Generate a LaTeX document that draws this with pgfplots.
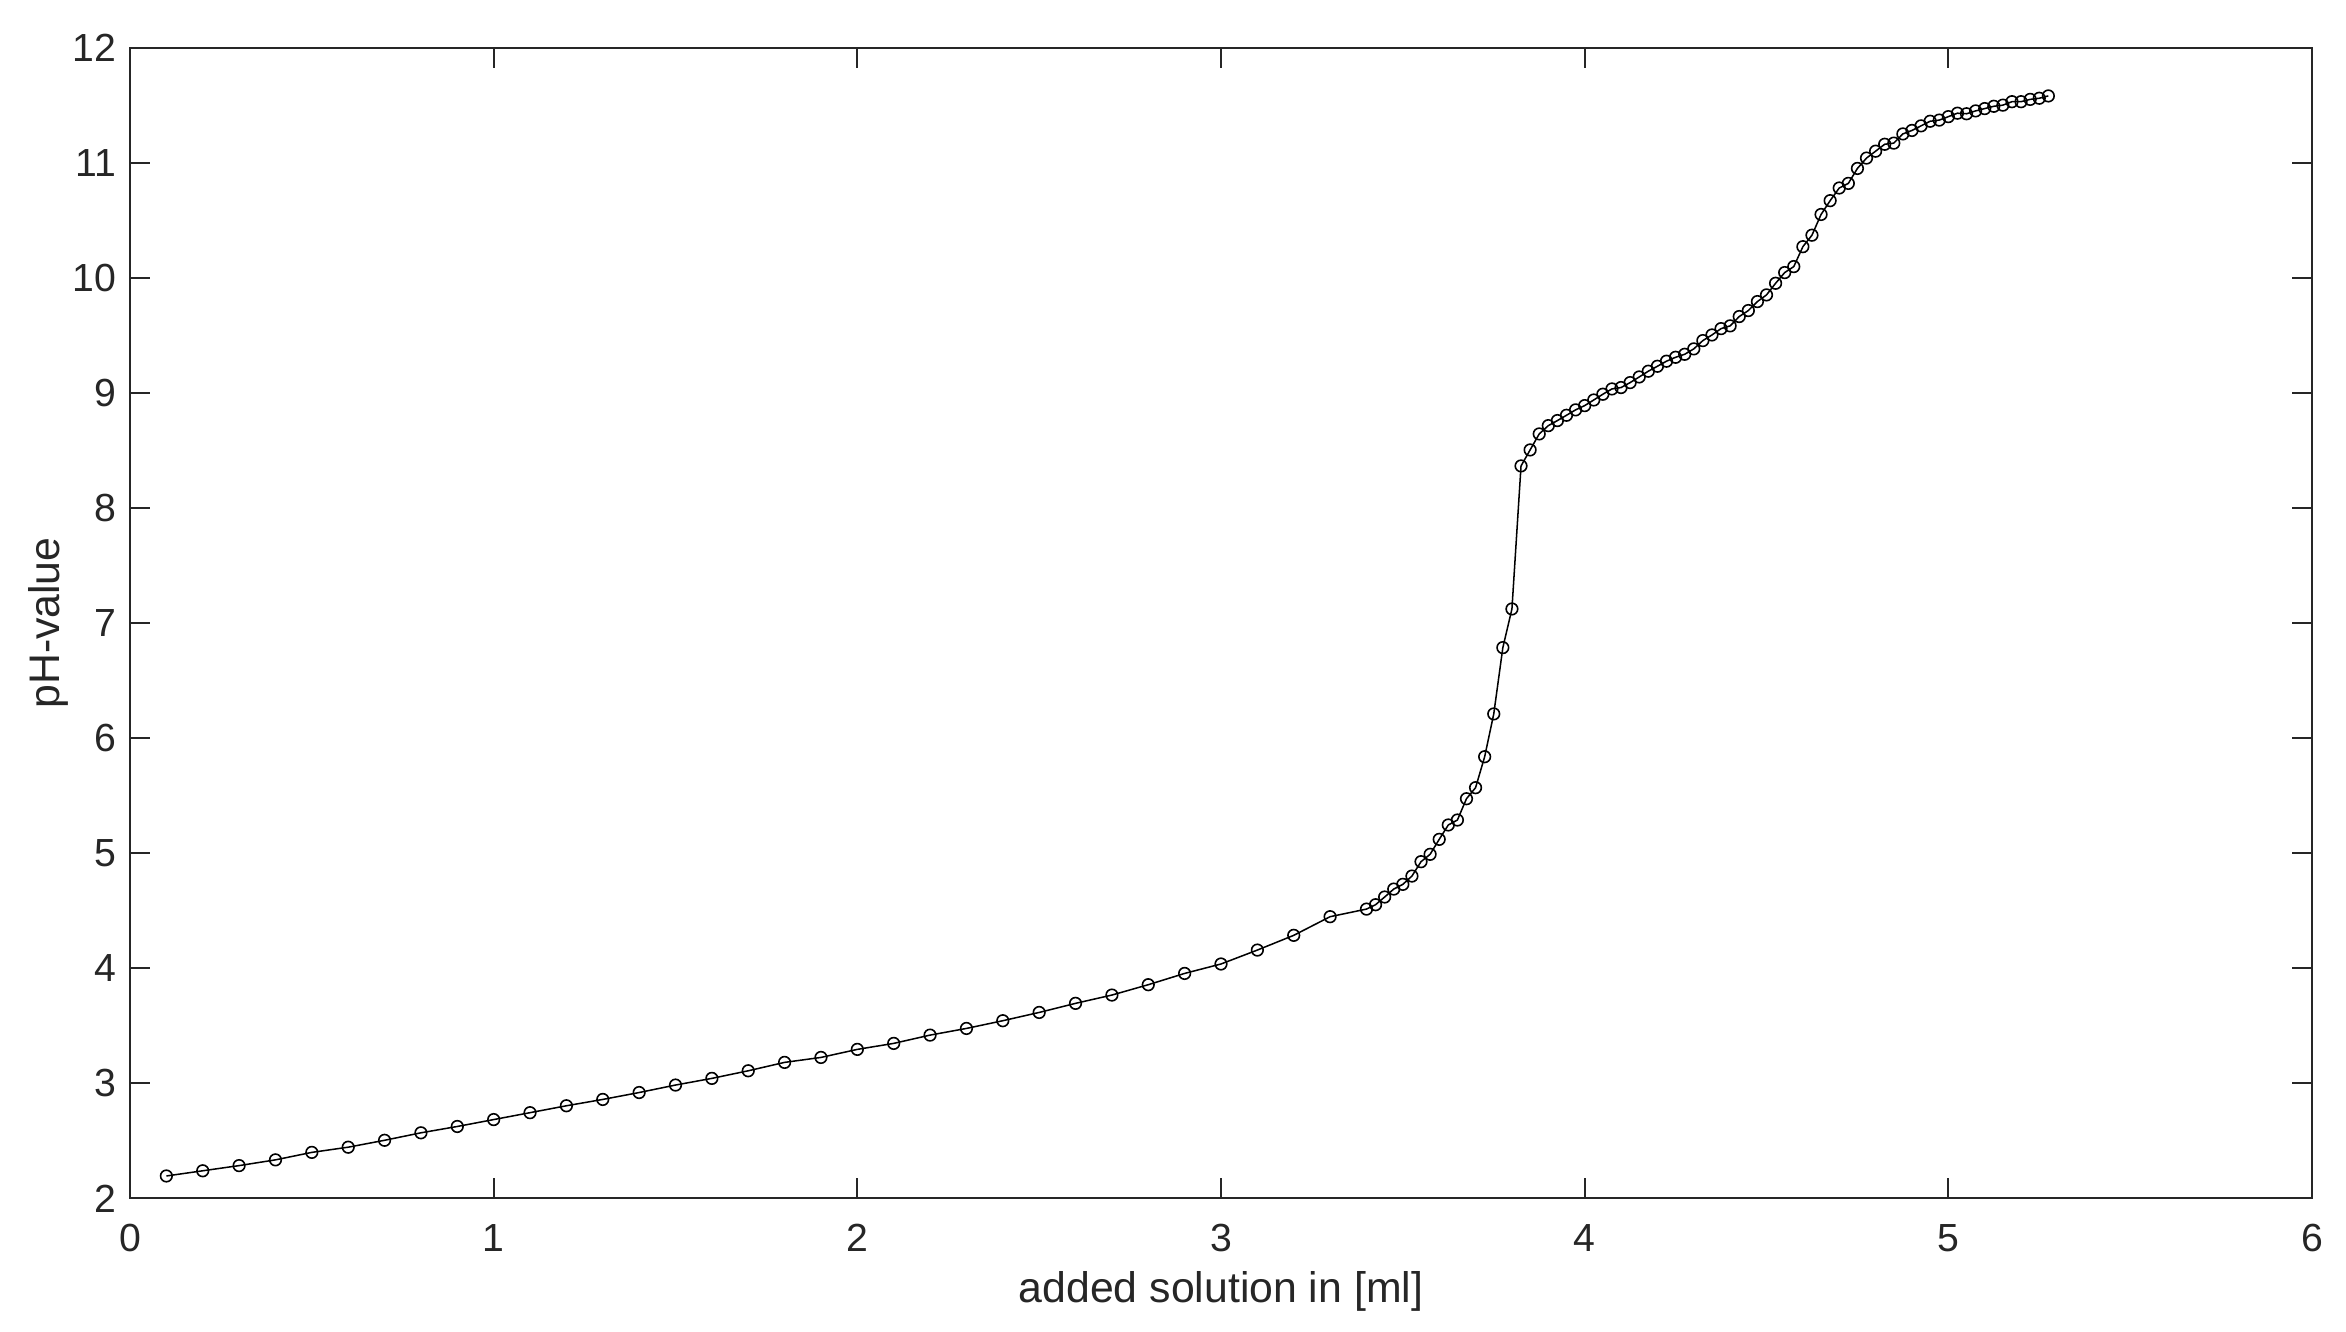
\documentclass[border=0pt]{standalone}
\usepackage{pgfplots}
\pgfplotsset{compat=1.18}
\usepackage{fontspec}
\setmainfont{Liberation Sans}
\definecolor{axgray}{HTML}{262626}
\begin{document}
\begin{tikzpicture}
\path[use as bounding box] (-32.5pt,-33.2pt) rectangle (554pt,299.6pt);
\begin{axis}[
  at={(0,0)}, anchor=south west,
  scale only axis,
  width=545.5pt, height=287.7pt,
  xmin=0, xmax=6, ymin=2, ymax=12,
  xtick={0,1,2,3,4,5,6}, ytick={2,3,4,5,6,7,8,9,10,11,12},
  xtick pos=both, ytick pos=both,
  tick align=inside,
  major tick length=5pt,
  axis line style={axgray, line width=0.5pt},
  every tick/.style={axgray, line width=0.5pt},
  /pgf/number format/assume math mode=true,
  tick label style={font=\fontsize{9.8}{11}\selectfont, text=axgray},
  xticklabel style={yshift=-3pt},
  label style={font=\fontsize{10.7}{12}\selectfont, text=axgray},
  xlabel={added solution in [ml]},
  ylabel={pH-value},
  xlabel style={at={(axis description cs:0.5,-0.0805)}, anchor=center},
  ylabel style={at={(axis description cs:-0.0376,0.5)}, anchor=center},
]
\addplot[black, line width=0.38pt, mark=o, mark size=1.45pt, mark options={line width=0.4pt, black}] table {
x y
0.1 2.195
0.2 2.24
0.3 2.285
0.4 2.335
0.5 2.40
0.6 2.445
0.7 2.505
0.8 2.57
0.9 2.625
1.0 2.685
1.1 2.745
1.2 2.805
1.3 2.86
1.4 2.92
1.5 2.985
1.6 3.043
1.7 3.109
1.8 3.182
1.9 3.225
2.0 3.295
2.1 3.347
2.2 3.419
2.3 3.477
2.4 3.544
2.5 3.616
2.6 3.695
2.7 3.767
2.8 3.857
2.9 3.955
3.0 4.037
3.1 4.158
3.2 4.286
3.3 4.448
3.4 4.514
3.425 4.552
3.45 4.619
3.475 4.688
3.5 4.729
3.525 4.801
3.55 4.926
3.575 4.990
3.6 5.120
3.625 5.245
3.65 5.288
3.675 5.473
3.7 5.569
3.725 5.838
3.75 6.21
3.775 6.786
3.8 7.122
3.825 8.365
3.85 8.504
3.875 8.643
3.9 8.715
3.925 8.759
3.95 8.805
3.975 8.852
4.0 8.889
4.025 8.938
4.05 8.988
4.075 9.034
4.1 9.046
4.125 9.089
4.15 9.138
4.175 9.188
4.2 9.231
4.225 9.275
4.25 9.309
4.275 9.335
4.3 9.382
4.325 9.454
4.35 9.503
4.375 9.558
4.4 9.582
4.425 9.663
4.45 9.715
4.475 9.793
4.5 9.851
4.525 9.952
4.55 10.045
4.575 10.097
4.6 10.27
4.625 10.37
4.65 10.55
4.675 10.67
4.7 10.78
4.725 10.82
4.75 10.95
4.775 11.04
4.8 11.10
4.825 11.16
4.85 11.17
4.875 11.25
4.9 11.28
4.925 11.32
4.95 11.36
4.975 11.37
5.0 11.40
5.025 11.43
5.05 11.425
5.075 11.45
5.1 11.47
5.125 11.49
5.15 11.50
5.175 11.53
5.2 11.53
5.225 11.55
5.25 11.56
5.275 11.58
};
\end{axis}
\end{tikzpicture}
\end{document}
